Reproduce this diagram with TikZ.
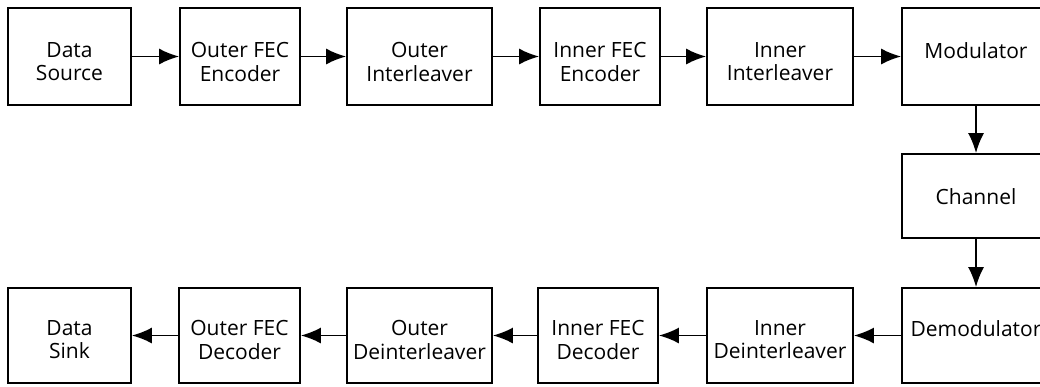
\documentclass[tikz,border=0pt]{standalone}
\usepackage{fontspec}
\setmainfont{Open Sans}
\usetikzlibrary{arrows.meta}
\begin{document}
\begin{tikzpicture}[x=1pt,y=-1pt,
  blk/.style={draw=black,line width=1.8pt,rectangle,inner sep=0pt},
  lbl/.style={inner sep=0pt,anchor=north,align=center,font=\fontsize{21}{23.5}\selectfont},
  arr/.style={line width=1.8pt,-{Latex[length=20pt,width=16pt]}}]
\useasboundingbox (0,0) rectangle (1040,386);
\clip (0,0) rectangle (1040,386);
% top row
\node[blk,minimum width=123pt,minimum height=97pt] (ds)  at (69.5,56.5) {};
\node[blk,minimum width=120pt,minimum height=97pt] (ofe) at (240,56.5) {};
\node[blk,minimum width=145pt,minimum height=97pt] (oi)  at (419.5,56.5) {};
\node[blk,minimum width=120pt,minimum height=97pt] (ife) at (600,56.5) {};
\node[blk,minimum width=146pt,minimum height=97pt] (ii)  at (780,56.5) {};
\node[blk,minimum width=148pt,minimum height=97pt] (mod) at (976,56.5) {};
% channel
\node[blk,minimum width=148pt,minimum height=84pt] (ch) at (976,196) {};
% bottom row
\node[blk,minimum width=123pt,minimum height=95pt] (dsk) at (69.5,335.5) {};
\node[blk,minimum width=121pt,minimum height=95pt] (ofd) at (239.5,335.5) {};
\node[blk,minimum width=145pt,minimum height=95pt] (odi) at (419.5,335.5) {};
\node[blk,minimum width=120pt,minimum height=95pt] (ifd) at (598,335.5) {};
\node[blk,minimum width=146pt,minimum height=95pt] (idi) at (780,335.5) {};
\node[blk,minimum width=148pt,minimum height=95pt] (dem) at (976,335.5) {};
% labels
\node[lbl] (tds)  at ([yshift=-35pt]ds.north)  {Data\\Source};
\node[lbl] (tofe) at ([yshift=-35pt]ofe.north) {Outer FEC\\Encoder};
\node[lbl] (toi)  at ([yshift=-35pt]oi.north)  {Outer\\Interleaver};
\node[lbl] (tife) at ([yshift=-35pt]ife.north) {Inner FEC\\Encoder};
\node[lbl] (tii)  at ([yshift=-35pt]ii.north)  {Inner\\Interleaver};
\node[lbl] (tmod) at ([yshift=-35pt]mod.north) {Modulator};
\node[lbl] (tch)  at ([yshift=-35pt]ch.north)  {Channel};
\node[lbl] (tdsk) at ([yshift=-33pt]dsk.north) {Data\\Sink};
\node[lbl] (tofd) at ([yshift=-33pt]ofd.north) {Outer FEC\\Decoder};
\node[lbl] (todi) at ([yshift=-33pt]odi.north) {Outer\\Deinterleaver};
\node[lbl] (tifd) at ([yshift=-33pt]ifd.north) {Inner FEC\\Decoder};
\node[lbl] (tidi) at ([yshift=-33pt]idi.north) {Inner\\Deinterleaver};
\node[lbl] (tdem) at ([yshift=-33pt]dem.north) {Demodulator};
% connectors
\draw[arr] (ds) -- (ofe);
\draw[arr] (ofe) -- (oi);
\draw[arr] (oi) -- (ife);
\draw[arr] (ife) -- (ii);
\draw[arr] (ii) -- (mod);
\draw[arr] (mod) -- (ch);
\draw[arr] (ch) -- (dem);
\draw[arr] (dem) -- (idi);
\draw[arr] (idi) -- (ifd);
\draw[arr] (ifd) -- (odi);
\draw[arr] (odi) -- (ofd);
\draw[arr] (ofd) -- (dsk);
\end{tikzpicture}
\end{document}
